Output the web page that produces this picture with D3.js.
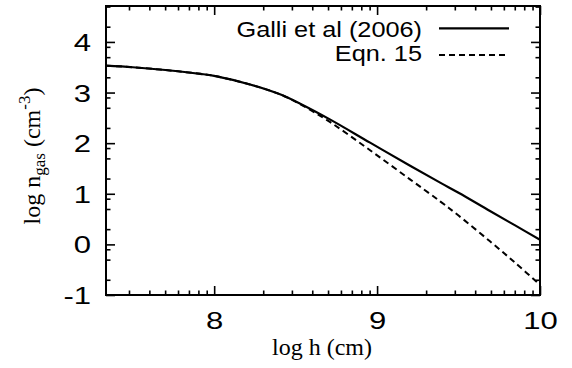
<!DOCTYPE html>
<html>
<head>
<meta charset="utf-8">
<script src="https://cdn.jsdelivr.net/npm/d3@7/dist/d3.min.js"></script>
<style>
  html, body { margin: 0; padding: 0; background: #fff; }
  svg { display: block; }
</style>
</head>
<body>
<svg id="chart" width="572" height="368"></svg>
<script>
// ---- data ----
const logH   = [7.336, 7.5, 7.7, 7.914, 8.0, 8.22, 8.4, 8.528, 8.71, 8.957, 9.2, 9.387, 9.5, 9.693, 9.85, 10.0];
const galli  = [3.53, 3.50, 3.445, 3.37, 3.33, 3.16, 2.97, 2.78, 2.47, 2.01, 1.56, 1.22, 1.02, 0.66, 0.37, 0.09];
const eqn15  = [3.53, 3.50, 3.445, 3.37, 3.33, 3.16, 2.97, 2.77, 2.42, 1.86, 1.29, 0.85, 0.57, 0.06, -0.37, -0.80];
const seriesNames = ["Galli et al (2006)", "Eqn. 15"];
const xMajor = [8, 9, 10];
const yMajor = [-1, 0, 1, 2, 3, 4];
const xDomain = [7.336, 10];
const yDomain = [-1, 4.71];

// ---- layout ----
const L = 106, R = 540, T = 6, B = 295;
const svg = d3.select("#chart");
const x = d3.scaleLinear().domain(xDomain).range([L, R]);
const y = d3.scaleLinear().domain(yDomain).range([B, T]);

// minor tick positions (log-style pattern used by the original)
const xMinor = [];
[7, 8, 9].forEach(d => { for (let k = 2; k <= 9; k++) { const v = d + Math.log10(k); if (v > xDomain[0] && v < xDomain[1]) xMinor.push(v); } });
const yMinor = [];
yMajor.forEach(n => [2, 5, 8].forEach(k => { const v = n + Math.log10(k); if (v < 4.7) yMinor.push(v); }));

const sansFont = "'Liberation Sans', Arial, Helvetica, sans-serif";
const serifFont = "'Liberation Serif', 'Times New Roman', Times, serif";
const MAJ = 9, MIN = 4.5;
const tickSX = 1.35;
const fmt = d => String(d);

function styleAxis(g) {
  g.select(".domain").remove();
  g.selectAll("line").attr("stroke", "#000").attr("stroke-width", 1.6);
}

// bottom
svg.append("g").attr("transform", `translate(0,${B})`)
  .call(d3.axisBottom(x).tickValues(xMinor).tickSize(-MIN).tickSizeOuter(0).tickFormat(""))
  .call(styleAxis);
const bx = svg.append("g").attr("transform", `translate(0,${B})`)
  .call(d3.axisBottom(x).tickValues(xMajor).tickSize(-MAJ).tickSizeOuter(0).tickFormat(fmt))
  .call(styleAxis);
bx.selectAll("text").attr("y", 34).attr("dy", 0)
  .attr("transform", `scale(${tickSX},1)`)
  .attr("font-family", sansFont).attr("font-size", 23).attr("fill", "#000");

// top
svg.append("g").attr("transform", `translate(0,${T})`)
  .call(d3.axisTop(x).tickValues(xMinor).tickSize(-MIN).tickSizeOuter(0).tickFormat(""))
  .call(styleAxis);
svg.append("g").attr("transform", `translate(0,${T})`)
  .call(d3.axisTop(x).tickValues(xMajor).tickSize(-MAJ).tickSizeOuter(0).tickFormat(""))
  .call(styleAxis);

// left
svg.append("g").attr("transform", `translate(${L},0)`)
  .call(d3.axisLeft(y).tickValues(yMinor).tickSize(-MIN).tickSizeOuter(0).tickFormat(""))
  .call(styleAxis);
const ly = svg.append("g").attr("transform", `translate(${L},0)`)
  .call(d3.axisLeft(y).tickValues(yMajor).tickSize(-MAJ).tickSizeOuter(0).tickFormat(fmt))
  .call(styleAxis);
ly.selectAll("text").attr("x", -15 / tickSX).attr("y", 8.5).attr("dy", 0)
  .attr("text-anchor", "end")
  .attr("transform", `scale(${tickSX},1)`)
  .attr("font-family", sansFont).attr("font-size", 23).attr("fill", "#000");

// right
svg.append("g").attr("transform", `translate(${R},0)`)
  .call(d3.axisRight(y).tickValues(yMinor).tickSize(-MIN).tickSizeOuter(0).tickFormat(""))
  .call(styleAxis);
svg.append("g").attr("transform", `translate(${R},0)`)
  .call(d3.axisRight(y).tickValues(yMajor).tickSize(-MAJ).tickSizeOuter(0).tickFormat(""))
  .call(styleAxis);

// curves
const line = d3.line().x((d, i) => x(logH[i])).y(d => y(d)).curve(d3.curveCatmullRom.alpha(0.5));
svg.append("defs").append("clipPath").attr("id", "clip")
  .append("rect").attr("x", L).attr("y", T).attr("width", R - L).attr("height", B - T);
const plot = svg.append("g").attr("clip-path", "url(#clip)");
plot.append("path").datum(eqn15).attr("d", line)
  .attr("fill", "none").attr("stroke", "#000").attr("stroke-width", 2).attr("stroke-dasharray", "6,4");
plot.append("path").datum(galli).attr("d", line)
  .attr("fill", "none").attr("stroke", "#000").attr("stroke-width", 2.2);

// frame
svg.append("rect").attr("x", L).attr("y", T).attr("width", R - L).attr("height", B - T)
  .attr("fill", "none").attr("stroke", "#000").attr("stroke-width", 2);

// legend
const legSX = 1.15;
const legRows = [
  { name: seriesNames[0], base: 36.5, ly: 28.3, dash: null, w: 2.2 },
  { name: seriesNames[1], base: 61, ly: 55, dash: "6,4", w: 2 }
];
legRows.forEach(r => {
  svg.append("text").attr("transform", `translate(422,${r.base}) scale(${legSX},1)`)
    .attr("text-anchor", "end").attr("font-family", sansFont).attr("font-size", 22)
    .attr("fill", "#000").text(r.name);
  svg.append("line").attr("x1", 439).attr("x2", 509).attr("y1", r.ly).attr("y2", r.ly)
    .attr("stroke", "#000").attr("stroke-width", r.w).attr("stroke-dasharray", r.dash);
});

// axis titles
svg.append("text").attr("x", 322).attr("y", 355).attr("text-anchor", "middle")
  .attr("font-family", serifFont).attr("font-size", 24).attr("fill", "#000").text("log h (cm)");

const yt = svg.append("text").attr("transform", "translate(40,156) rotate(-90)")
  .attr("text-anchor", "middle").attr("font-family", serifFont).attr("font-size", 24).attr("fill", "#000");
yt.append("tspan").text("log n");
yt.append("tspan").attr("font-size", 17).attr("dy", 5).text("gas");
yt.append("tspan").attr("dy", -5).text(" (cm");
yt.append("tspan").attr("font-size", 17).attr("dy", -10).text("-3");
yt.append("tspan").attr("dy", 10).text(")");
</script>
</body>
</html>
